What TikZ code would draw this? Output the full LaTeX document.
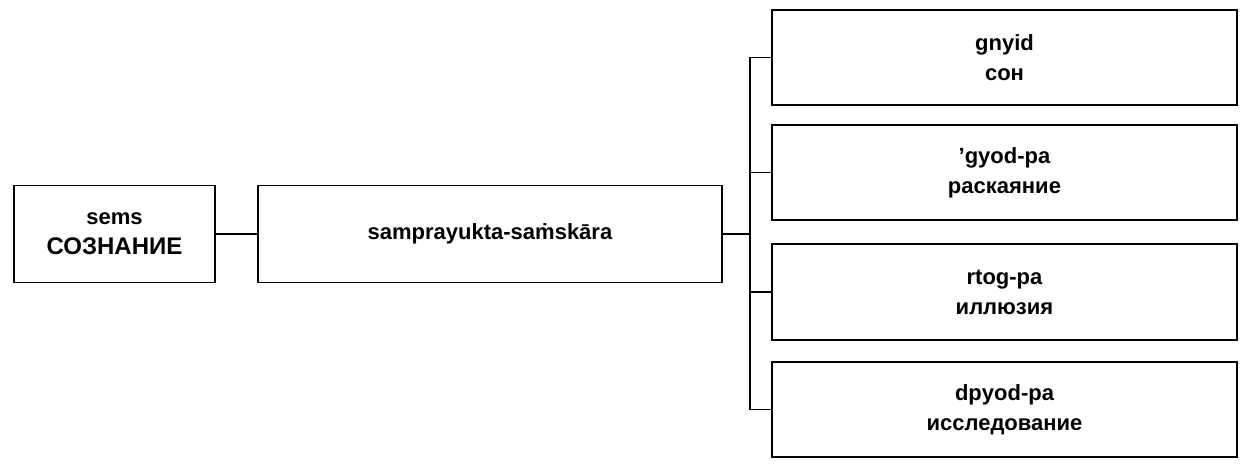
\documentclass[tikz,border=0pt]{standalone}
\usepackage{fontspec}
\setmainfont{Liberation Sans}
\begin{document}
\begin{tikzpicture}[x=1pt,y=-1pt,
  box/.style={draw,line width=1.6pt,inner sep=0pt,align=center,font=\bfseries\fontsize{22}{30}\selectfont},
  conn/.style={line width=1.4pt}]
\useasboundingbox (0,0) rectangle (1250,464);
\node[box,minimum width=201,minimum height=97] (s) at (114.5,234) {sems\\\fontsize{24}{30}\selectfont СОЗНАНИЕ};
\node[box,minimum width=464,minimum height=97] (m) at (490,234) {samprayukta-saṁskāra};
\node[box,minimum width=465,minimum height=95] (a) at (1004.5,57.5) {gnyid\\сон};
\node[box,minimum width=465,minimum height=95] (b) at (1004.5,172.5) {'gyod-pa\\раскаяние};
\node[box,minimum width=465,minimum height=96] (c) at (1004.5,292) {rtog-pa\\иллюзия};
\node[box,minimum width=465,minimum height=95] (d) at (1004.5,409.5) {dpyod-pa\\исследование};
\draw[conn] (s.east) -- (m.west);
\coordinate (j) at (750,234);
\draw[conn] (m.east) -- (j);
\draw[conn] (a.west) -| (750,409.5) -- (d.west);
\draw[conn] (b.west) -- (750,172.5);
\draw[conn] (c.west) -- (750,292);
\end{tikzpicture}
\end{document}
